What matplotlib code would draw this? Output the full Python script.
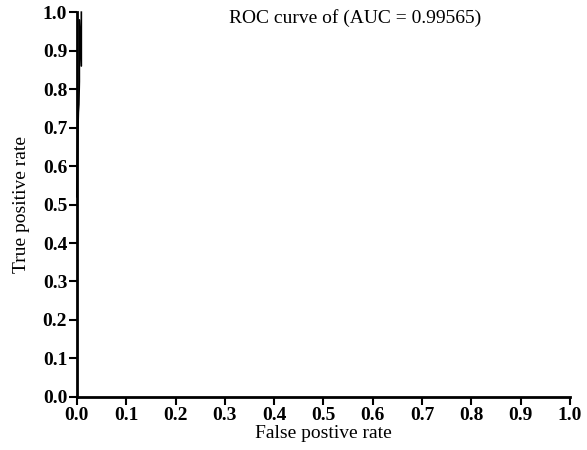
import numpy as np
import matplotlib
matplotlib.use("Agg")
import matplotlib.pyplot as plt

# ROC points (the curve hugs the y axis)
fpr = [0.0, 0.001, 0.002, 0.003, 0.004, 0.005, 0.005, 0.009, 0.009]
tpr = [0.52, 0.61, 0.69, 0.74, 0.76, 0.82, 0.98, 0.86, 1.0]
auc = 0.99565
ticks = [0.0, 0.1, 0.2, 0.3, 0.4, 0.5, 0.6, 0.7, 0.8, 0.9, 1.0]

plt.rcParams['font.family'] = ['Liberation Serif', 'DejaVu Serif']

fig = plt.figure(figsize=(5.87, 4.5), dpi=100)
ax = fig.add_axes([0.131, 0.118, 0.84, 0.855])

ax.plot(fpr, tpr, color='black', lw=1.2, clip_on=False)

ax.set_xlim(0, 1)
ax.set_ylim(0, 1)
ax.set_xticks(ticks)
ax.set_yticks(ticks)
ax.set_xticklabels(["%.1f" % t for t in ticks], fontweight='bold', fontsize=14)
ax.set_yticklabels(["%.1f" % t for t in ticks], fontweight='bold', fontsize=14)
ax.tick_params(direction='out', length=6, width=1.5, pad=1)

for s in ['top', 'right']:
    ax.spines[s].set_visible(False)
for s in ['left', 'bottom']:
    ax.spines[s].set_linewidth(2)

ax.set_xlabel("False postive rate", fontsize=14, labelpad=1)
ax.set_ylabel("True positive rate", fontsize=14, labelpad=9)

ax.text(0.565, 0.985, "ROC curve of (AUC = %.5f)" % auc, ha='center', va='center',
        fontsize=14, transform=ax.transAxes)

fig.savefig("out.png")
